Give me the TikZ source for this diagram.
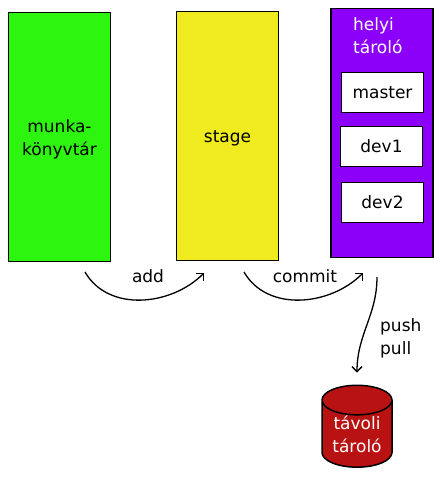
\documentclass[tikz,border=0pt]{standalone}
\usepackage{fontspec}
\setmainfont{DejaVu Sans}
\usetikzlibrary{arrows.meta,positioning,shapes.geometric,calc}
\definecolor{workGreen}{RGB}{45,245,15}
\definecolor{stageYellow}{RGB}{240,235,30}
\definecolor{localPurple}{RGB}{140,0,250}
\definecolor{remoteRed}{RGB}{185,18,18}
\begin{document}
\begin{tikzpicture}[x=1pt,y=1pt,
    every node/.style={font=\fontsize{17}{23}\selectfont},
    area/.style={draw, line width=1.8pt, minimum width=102pt, minimum height=249pt, inner sep=0pt},
    branchbox/.style={draw, fill=white, line width=1.5pt, minimum width=82pt, minimum height=40pt, inner sep=0pt},
    flow/.style={line width=1.3pt, -{Straight Barb[length=5pt,width=10pt]}}]
  \useasboundingbox (0,0) rectangle (446,488);

  \node[area, fill=workGreen] (work) at (59.5,351) {};
  \node[anchor=north, align=center, inner sep=0pt] (workLabel) at ($(work.center)+(0,18)$) {munka-\\könyvtár};
  \node[area, fill=stageYellow] (stage) at (227.5,352) {};
  \node[anchor=base, inner sep=0pt] (stageLabel) at ($(stage.center)+(0,-7)$) {stage};
  \node[area, fill=localPurple] (local) at (382,355) {};
  \node[anchor=north west, align=left, text=white, inner sep=0pt] (localLabel) at (353,471) {helyi\\tároló};
  \node[branchbox] (master) at (382.5,395.5) {master};
  \node[branchbox] (dev1) at (381.5,341.5) {dev1};
  \node[branchbox] (dev2) at (382.5,285.5) {dev2};

  \node[cylinder, shape border rotate=90, aspect=0.6, draw, line width=1.5pt, fill=remoteRed,
        minimum width=70pt, minimum height=81pt, inner sep=0pt, text=white, align=center] (remote) at (357,54) {távoli\\tároló};

  % arrows between the areas
  \coordinate (addStart) at (85,216);
  \coordinate (addEnd) at (204,215);
  \coordinate (commitStart) at (244,216);
  \coordinate (commitEnd) at (363,215);
  \coordinate (pushStart) at (377,211);
  \draw[flow] (addStart) to[out=-60,in=-135] (addEnd);
  \draw[flow] (commitStart) to[out=-60,in=-135] (commitEnd);
  \draw[flow] (pushStart) to[out=-90,in=90] ([yshift=12pt]remote.north);

  \node[anchor=base] (addLabel) at (148,205) {add};
  \node[anchor=base] (commitLabel) at (305,205) {commit};
  \node[anchor=north west, align=left, inner sep=0pt] (pushLabel) at (380,170) {push\\pull};
\end{tikzpicture}
\end{document}
